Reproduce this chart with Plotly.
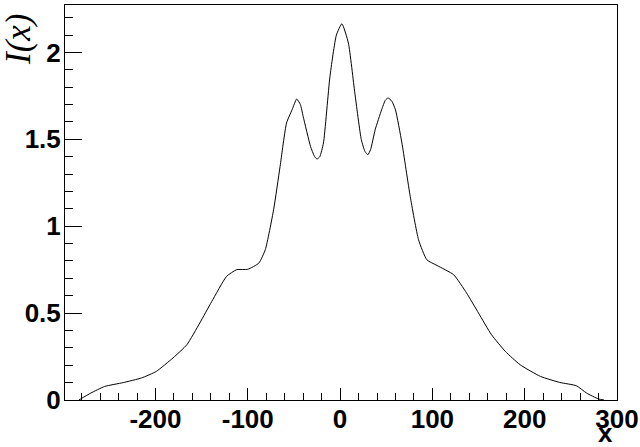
import plotly.graph_objects as go

# Curve I(x)
x_vals = [-283, -270, -255, -235, -215, -199, -181, -166, -152, -139, -123, -112, -100,
          -88, -81, -72, -65, -58, -52, -47, -43, -40, -32, -28, -25, -22, -18, -11, -4, 2,
          9, 16, 23, 27, 30, 33, 38, 45, 49, 52, 56, 60, 67, 76, 85, 94, 105, 123, 137, 150,
          164, 179, 195, 217, 238, 256, 267, 280, 286]
i_vals = [0.0, 0.04, 0.078, 0.10, 0.127, 0.165, 0.242, 0.318, 0.443, 0.567, 0.711, 0.75, 0.752,
          0.788, 0.865, 1.095, 1.344, 1.594, 1.67, 1.732, 1.70, 1.632, 1.459, 1.405, 1.386, 1.40,
          1.479, 1.86, 2.10, 2.165, 2.054, 1.766, 1.498, 1.43, 1.411, 1.44, 1.555, 1.67, 1.725,
          1.738, 1.72, 1.67, 1.479, 1.171, 0.922, 0.807, 0.774, 0.721, 0.616, 0.5, 0.376, 0.28,
          0.203, 0.136, 0.101, 0.082, 0.04, 0.006, 0.0]

x_tick_vals = [-200, -100, 0, 100, 200, 300]
x_tick_text = ["-200", "-100", "0", "100", "200", "300"]
y_tick_vals = [0, 0.5, 1, 1.5, 2]
y_tick_text = ["0", "0.5", "1", "1.5", "2"]

x_title = "x"
y_title = "I(x)"

W, H = 640, 447
ML, MR, MT, MB = 65, 23, 5, 47

fig = go.Figure()
fig.add_trace(go.Scatter(x=x_vals, y=i_vals, mode="lines",
                         line=dict(color="black", width=1, shape="spline", smoothing=0.5),
                         hoverinfo="skip", showlegend=False))

tickfont = dict(family="Liberation Sans, Arial, sans-serif", size=26, color="black", weight="bold")

fig.update_layout(
    width=W, height=H,
    margin=dict(l=ML, r=MR, t=MT, b=MB, pad=0, autoexpand=False),
    paper_bgcolor="white", plot_bgcolor="white",
    showlegend=False,
    xaxis=dict(range=[-298, 300], showgrid=False, zeroline=False, automargin=False,
               showline=True, linecolor="black", linewidth=1, mirror=True,
               ticks="inside", ticklen=12, tickcolor="black", tickwidth=1,
               tickvals=x_tick_vals, ticktext=x_tick_text, tickfont=tickfont,
               ticklabelstandoff=-4,
               minor=dict(ticks="inside", ticklen=7, dtick=20, tick0=0,
                          tickcolor="black", tickwidth=1, showgrid=False)),
    yaxis=dict(range=[0, 2.273], showgrid=False, zeroline=False, automargin=False,
               showline=True, linecolor="black", linewidth=1, mirror=True,
               ticks="inside", ticklen=17, tickcolor="black", tickwidth=1,
               tickvals=y_tick_vals, ticktext=y_tick_text, tickfont=tickfont,
               ticklabelstandoff=-2,
               minor=dict(ticks="inside", ticklen=8, dtick=0.1, tick0=0,
                          tickcolor="black", tickwidth=1, showgrid=False)),
)

fig.add_annotation(text="<b>" + x_title + "</b>", xref="paper", yref="paper",
                   x=(614 - ML) / (W - ML - MR), xanchor="right",
                   y=-(449 - (H - MB)) / (H - MT - MB), yanchor="bottom",
                   showarrow=False, borderpad=0,
                   font=dict(family="Liberation Sans, Arial, sans-serif", size=26, color="black"))

fig.add_annotation(text="<i>" + y_title + "</i>", xref="paper", yref="paper",
                   x=-(ML - 18) / (W - ML - MR), xanchor="center",
                   y=1 - (12 - MT) / (H - MT - MB), yanchor="top",
                   textangle=-90, showarrow=False, borderpad=0,
                   font=dict(family="Liberation Serif, Times New Roman, serif", size=35, color="black"))

fig.write_html("out.html",
               config={"displayModeBar": False, "staticPlot": True},
               post_script="document.body.style.margin='0';document.body.style.overflow='hidden';")
